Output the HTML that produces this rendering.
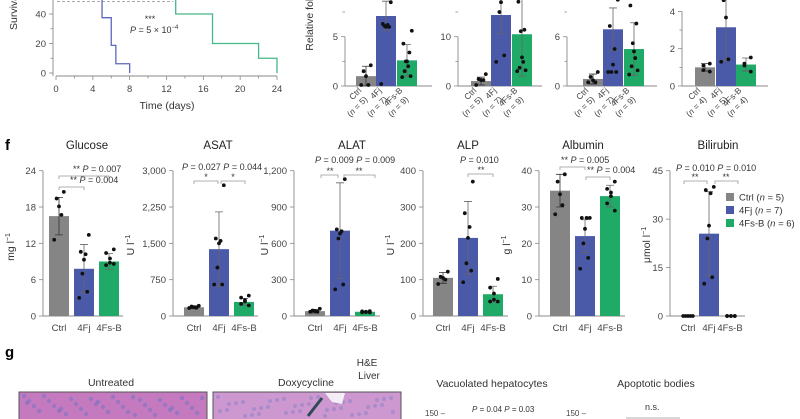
<!DOCTYPE html>
<html><head><meta charset="utf-8">
<style>
html,body{margin:0;padding:0;background:#fff;}
svg{display:block;font-family:"Liberation Sans",sans-serif;}
</style></head>
<body>
<svg id="fig" width="800" height="419" viewBox="0 0 800 419" xmlns="http://www.w3.org/2000/svg">
<g id="static">
  <text x="5" y="150" font-size="15" font-weight="bold">f</text>
  <text x="5" y="357" font-size="15" font-weight="bold">g</text>
  <text x="367" y="366" font-size="10" text-anchor="middle" fill="#333">H&amp;E</text>
  <text x="369" y="379" font-size="10" text-anchor="middle" fill="#333">Liver</text>
  <text x="111" y="386" font-size="10.5" text-anchor="middle" fill="#333">Untreated</text>
  <text x="306" y="386" font-size="10.5" text-anchor="middle" fill="#333">Doxycycline</text>
  <text x="492" y="387" font-size="10.5" text-anchor="middle" fill="#333">Vacuolated hepatocytes</text>
  <text x="656" y="387" font-size="10.5" text-anchor="middle" fill="#333">Apoptotic bodies</text>
  <text x="425" y="416" font-size="8" fill="#444">150 –</text>
  <text x="472" y="412" font-size="8" fill="#333"><tspan font-style="italic">P</tspan> = 0.04 <tspan font-style="italic">P</tspan> = 0.03</text>
  <text x="566" y="416" font-size="8" fill="#444">150 –</text>
  <text x="645" y="410" font-size="9" fill="#333">n.s.</text>
  <line x1="626" y1="418" x2="680" y2="418" stroke="#999" stroke-width="0.8"/>
</g>
<g id="histo"></g>
<g id="surv"></g>
<g id="charts"></g>
</svg>
<script>
// ---------- Survival data ----------
const survTicksX = [0,4,8,12,16,20,24];
const survTicksY = [0,20,40];
const survBlueT = [0,5,6,6.5,8];
const survBlueV = [100,37.5,18.75,6.25,0];
const survGreenT = [0,13,17,22,24];
const survGreenV = [100,40,20,10,0];

// ---------- Top-row fold-expression data ----------
const groupsTop = ['Ctrl','4Fj','4Fs-B'];
const foldA_n = [5,7,9], foldA_mean = [1.0,7.1,2.6], foldA_err = [1.0,1.5,1.6];
const foldA_dots = [[2.1,1.5,1.0,0.1,0.1],[8.5,6.3,6.2,6.0,6.1,6.0,0.2],[5.6,4.3,3.4,2.5,2.5,2.0,1.5,1.0,0.9]];
const foldB_n = [5,7,9], foldB_mean = [1.0,14.4,10.5], foldB_err = [0.8,3.8,8.5];
const foldB_dots = [[2.4,1.4,1.2,1.2,0.2],[20,19,18,17,15,6.2,4.9],[20,17.1,11.4,11.1,5.8,4.9,3.7,3.2,3.0]];
const foldC_n = [5,7,9], foldC_mean = [0.85,6.9,4.5], foldC_err = [0.6,2.6,3.2];
const foldC_dots = [[1.7,1.1,0.7,0.45,0.45],[10.5,7.3,4.5,2.6,1.7,1.7,1.7],[11,9.8,7.6,5.2,4.2,3.4,2.4,1.9,1.4]];
const foldD_n = [4,5,4], foldD_mean = [1.0,3.15,1.15], foldD_err = [0.2,1.8,0.35];
const foldD_dots = [[1.2,1.1,0.85,0.77],[4.9,4.6,3.67,1.43,1.3],[1.53,1.2,1.1,0.77]];

// ---------- Serum chemistry data ----------
const gluc_mean=[16.5,7.8,9.0], gluc_err=[3.1,4.0,1.3];
const gluc_dots=[[20.5,19.4,18.1,16.7,12.6],[13.4,10.6,10.2,9.3,7.0,4.0,3.0],[11,10.4,9.5,8.8,8.4,8.6]];
const gluc_ticks=[0,6,12,18,24];
const asat_mean=[180,1380,290], asat_err=[30,770,70];
const asat_dots=[[210,195,180,170,165],[2700,1600,1550,1500,1000,650,650],[420,380,330,300,250,220]];
const asat_ticks=[0,750,1500,2250,3000];
const asat_tickLabels=['0','750','1,500','2,250','3,000'];
const alat_mean=[40,705,35], alat_err=[15,395,5];
const alat_dots=[[60,45,40,35,35],[1130,715,700,680,640,260,220],[40,38,35,32,30,30]];
const alat_ticks=[0,300,600,900,1200];
const alat_tickLabels=['0','300','600','900','1,200'];
const alp_mean=[105,215,60], alp_err=[15,100,22];
const alp_dots=[[122,108,105,100,88],[370,283,245,215,145,125,93],[102,78,62,45,40,40]];
const alp_ticks=[0,100,200,300,400];
const alb_mean=[34.5,22,33], alb_err=[4.5,4.5,3];
const alb_dots=[[39,37,33.5,30.5,28],[27,27,27,24,20,16,13],[37,35,34,33,31,29]];
const alb_ticks=[0,10,20,30,40];
const bil_mean=[0,25.5,0], bil_err=[0,13,0];
const bil_dots=[[0,0,0,0,0],[40,39,38,28,24,12,10],[0,0,0,0,0,0]];
const bil_ticks=[0,15,30,45];
const legendLabels=['Ctrl','4Fj','4Fs-B'];
const legendN=[5,7,6];

const COLORS=['#858585','#4a5aa9','#1faa68'];
const NS='http://www.w3.org/2000/svg';
function mk(parent, tag, attrs){const e=document.createElementNS(NS,tag);for(const k in attrs)e.setAttribute(k,attrs[k]);parent.appendChild(e);return e;}

// ---------- Histology (decorative) ----------
(function(){
  const g=document.getElementById('histo');
  const r1=mk(g,'rect',{x:19,y:392,width:188,height:30,fill:'#c57ac0',stroke:'#555','stroke-width':1});
  
  
  const r2=mk(g,'rect',{x:213,y:392,width:188,height:30,fill:'#cc98cf',stroke:'#555','stroke-width':1});
  
  
  for(let i=0;i<40;i++){
    const c=mk(g,'circle',{cx:24+((i*37)%180),cy:396+((i*13)%20),r:2.2,fill:'#7b74c0',opacity:0.6});
    
    
    const c2=mk(g,'circle',{cx:218+((i*41)%180),cy:397+((i*17)%20),r:2,fill:'#8a80c8',opacity:0.5});
    
    
  }
  const v=mk(g,'path',{d:'M325 393 L345 393 L342 404 L332 402 Z',fill:'#f3eef5'});
  
  
  const a=mk(g,'line',{x1:322,y1:398,x2:308,y2:416,stroke:'#2d4a55','stroke-width':3});
  
  
})();

// ---------- Survival chart ----------
(function(){
  const g=document.getElementById('surv');
  const X0=56,X1=277,Y0=73,PY=1.475;
  const sx=t=>X0+t*(X1-X0)/24, sy=v=>Y0-v*PY;
  const ax=mk(g,'line',{x1:X0,y1:Y0+3,x2:X1,y2:Y0+3,stroke:'#888','stroke-width':0.9});
  
  
  const ay=mk(g,'line',{x1:X0-3,y1:0,x2:X0-3,y2:Y0+3,stroke:'#888','stroke-width':0.9});
  
  
  for(let t=0;t<=24;t+=2){mk(g,'line',{x1:sx(t),y1:Y0+3,x2:sx(t),y2:Y0+(t%4===0?7:5.5),stroke:'#888','stroke-width':0.8});}
  survTicksX.forEach(t=>{const e=mk(g,'text',{x:sx(t),y:Y0+19,'font-size':9.5,'text-anchor':'middle',fill:'#444'});e.textContent=t;
    
    });
  survTicksY.forEach(v=>{mk(g,'line',{x1:X0-7,y1:sy(v),x2:X0-3,y2:sy(v),stroke:'#888','stroke-width':0.8});
    const e=mk(g,'text',{x:X0-10,y:sy(v)+3.5,'font-size':9.5,'text-anchor':'end',fill:'#444'});e.textContent=v;
    
    });
  [10,30].forEach(v=>mk(g,'line',{x1:X0-5.5,y1:sy(v),x2:X0-3,y2:sy(v),stroke:'#888','stroke-width':0.8}));
  const yl=mk(g,'text',{x:0,y:0,'font-size':10.5,fill:'#333',transform:'translate(17,30) rotate(-90)'});yl.textContent='Survival (%)';
  
  
  const xl=mk(g,'text',{x:167,y:109,'font-size':10.5,'text-anchor':'middle',fill:'#333'});xl.textContent='Time (days)';
  
  
  const d=mk(g,'line',{x1:57,y1:1.5,x2:173,y2:1.5,stroke:'#aaa','stroke-width':1,'stroke-dasharray':'3,2'});
  
  
  function step(T,V,color,name){
    let p='M'+sx(T[0])+' '+sy(V[0]);
    for(let i=1;i<T.length;i++){p+=' H'+sx(T[i])+' V'+sy(V[i]);}
    const e=mk(g,'path',{d:p,fill:'none',stroke:color,'stroke-width':1.3});
    
    
  }
  step(survBlueT,survBlueV,'#5b68bd','survival-4fj-line');
  step(survGreenT,survGreenV,'#45b888','survival-4fsb-line');
  const s=mk(g,'text',{x:150,y:22,'font-size':9,'text-anchor':'middle',fill:'#333'});s.textContent='***';
  
  
  const pt=mk(g,'text',{x:130,y:33,'font-size':9,fill:'#333'});
  pt.innerHTML='<tspan font-style="italic">P</tspan> = 5 × 10<tspan font-size="6" dy="-4">−4</tspan>';
  
  
})();

// ---------- Bar chart helper ----------
function barChart(cfg, means, errs, dots){
  const g=mk(document.getElementById('charts'),'g',{});
  
  
  const sy=v=>Math.max(cfg.y0-(v-0)*(cfg.y0-cfg.yTop)/cfg.vTop, -5);
  const ax=mk(g,'line',{x1:cfg.ax,y1:cfg.y0,x2:cfg.axEnd,y2:cfg.y0,stroke:'#888','stroke-width':0.9});
  
  
  const ay=mk(g,'line',{x1:cfg.ax,y1:cfg.y0,x2:cfg.ax,y2:Math.max(0,sy(cfg.ticks[cfg.ticks.length-1])),stroke:'#888','stroke-width':0.9});
  
  
  cfg.ticks.forEach((v,i)=>{
    const y=sy(v); if(y<0) return;
    mk(g,'line',{x1:cfg.ax-4,y1:y,x2:cfg.ax,y2:y,stroke:'#888','stroke-width':0.8});
    const lab=cfg.labels?cfg.labels[i]:String(v);
    if(lab!==''){const t=mk(g,'text',{x:cfg.ax-7,y:y+3.5,'font-size':9.5,'text-anchor':'end',fill:'#444'});t.textContent=lab;
      
      }
  });
  means.forEach((m,i)=>{
    const x=cfg.bx[i], w=20, cx=x+w/2;
    const b=mk(g,'rect',{x:x,y:sy(m),width:w,height:cfg.y0-sy(m),fill:COLORS[i]});
    
    
    if(errs[i]>0){
      const top=sy(m+errs[i]), bot=sy(Math.max(0,m-errs[i]));
      const e=mk(g,'path',{d:`M${cx} ${top} V${bot} M${cx-4} ${top} H${cx+4} M${cx-4} ${bot} H${cx+4}`,stroke:i===0?'#333':'#666','stroke-width':0.8,fill:'none'});
      
      
    }
    const d=dots[i], n=d.length;
    d.forEach((v,j)=>{
      const off=n>1?(-6+12*j/(n-1)):0;
      const c=mk(g,'circle',{cx:cx+off*((j%2)?1:-1)*0.8,cy:sy(v),r:1.9,fill:'#111'});
      
      
    });
    if(cfg.xlab==='rot'){
      const gl=mk(g,'g',{transform:`translate(${cx-4},${cfg.y0+5}) rotate(-45)`});
      const t1=mk(gl,'text',{x:0,y:0,'font-size':8.5,'text-anchor':'end',fill:'#444'});t1.textContent=groupsTop[i];
      
      
      const t2=mk(gl,'text',{x:-2,y:10.5,'font-size':8.5,'text-anchor':'end',fill:'#444'});
      t2.innerHTML='(<tspan font-style="italic">n</tspan> = '+cfg.n[i]+')';
      
      
    } else {
      const t=mk(g,'text',{x:cx,y:cfg.y0+15,'font-size':9.5,'text-anchor':'middle',fill:'#444'});t.textContent=groupsTop[i];
      
      
    }
  });
  if(cfg.minor){cfg.minor.forEach(v=>{const y=sy(v);if(y>=0)mk(g,'line',{x1:cfg.ax-2.5,y1:y,x2:cfg.ax,y2:y,stroke:'#888','stroke-width':0.8});});}
  if(cfg.title){const t=mk(g,'text',{x:cfg.tx,y:149,'font-size':11.5,'text-anchor':'middle',fill:'#222'});t.textContent=cfg.title;
    
    }
  if(cfg.ylab){const t=mk(g,'text',{x:0,y:0,'font-size':10.5,'text-anchor':'middle',fill:'#333',transform:`translate(${cfg.ylx},${cfg.yly}) rotate(-90)`});t.innerHTML=cfg.ylab;
    
    }
  return g;
}
function bracket(g,x1,x2,y,name){
  const p=mk(g,'path',{d:`M${x1} ${y+3} V${y} H${x2} V${y+3}`,stroke:'#999','stroke-width':0.8,fill:'none'});
  
  
}
function txt(g,x,y,html,name,anchor){
  const t=mk(g,'text',{x:x,y:y,'font-size':9,fill:'#333','text-anchor':anchor||'start'});t.innerHTML=html;
  
  
  return t;
}
const P='<tspan font-style="italic">P</tspan>';

// Top fold charts
barChart({name:'fold-a',ax:345,axEnd:432,y0:86,yTop:36.7,vTop:5,ticks:[0,5],minor:[2.5,7.5],bx:[356,376,397],xlab:'rot',n:foldA_n,ylab:'Relative fold expression',ylx:313,yly:-5},foldA_mean,foldA_err,foldA_dots);
barChart({name:'fold-b',ax:458,axEnd:542,y0:86,yTop:36.7,vTop:10,ticks:[0,10],minor:[5,15],bx:[471,491,512],xlab:'rot',n:foldB_n},foldB_mean,foldB_err,foldB_dots);
barChart({name:'fold-c',ax:567,axEnd:657,y0:86,yTop:36.7,vTop:6,ticks:[0,6],minor:[3,9],bx:[583,603,624],xlab:'rot',n:foldC_n},foldC_mean,foldC_err,foldC_dots);
barChart({name:'fold-d',ax:682,axEnd:768,y0:86,yTop:48.7,vTop:2,ticks:[0,2,4],minor:[1,3],bx:[695,716,736],xlab:'rot',n:foldD_n},foldD_mean,foldD_err,foldD_dots);

// Row f
const Y0=316, YT=170.7;
const g1=barChart({name:'glucose',title:'Glucose',tx:87,ax:43,axEnd:123,y0:Y0,yTop:YT,vTop:24,ticks:gluc_ticks,bx:[49,74,99],ylab:'mg l<tspan font-size="7" dy="-4">−1</tspan>',ylx:14,yly:247},gluc_mean,gluc_err,gluc_dots);
bracket(g1,59,109,176,'glucose-bracket-ctrl-4fsb');txt(g1,73,172,'** '+P+' = 0.007','glucose-p-4fsb');
bracket(g1,59,84,187,'glucose-bracket-ctrl-4fj');txt(g1,70,183,'** '+P+' = 0.004','glucose-p-4fj');
const g2=barChart({name:'asat',title:'ASAT',tx:218,ax:173,axEnd:258,y0:Y0,yTop:YT,vTop:3000,ticks:asat_ticks,labels:asat_tickLabels,bx:[184,209,234],ylab:'U l<tspan font-size="7" dy="-4">−1</tspan>',ylx:134,yly:245},asat_mean,asat_err,asat_dots);
txt(g2,182,170,P+' = 0.027 '+P+' = 0.044','asat-p-values');
bracket(g2,194,218,181,'asat-bracket-1');bracket(g2,221,245,181,'asat-bracket-2');
txt(g2,206,180,'*','asat-star-1','middle');txt(g2,233,180,'*','asat-star-2','middle');
const g3=barChart({name:'alat',title:'ALAT',tx:352,ax:294,axEnd:380,y0:Y0,yTop:YT,vTop:1200,ticks:alat_ticks,labels:alat_tickLabels,bx:[305,330,355],ylab:'U l<tspan font-size="7" dy="-4">−1</tspan>',ylx:268,yly:245},alat_mean,alat_err,alat_dots);
txt(g3,315,163,P+' = 0.009 '+P+' = 0.009','alat-p-values');
bracket(g3,321,338,175,'alat-bracket-1');bracket(g3,344,375,175,'alat-bracket-2');
txt(g3,330,174,'**','alat-stars-1','middle');txt(g3,359,174,'**','alat-stars-2','middle');
const alpY=mk(g3,'text',{x:0,y:0,'font-size':10.5,'text-anchor':'middle',fill:'#333',transform:'translate(394,245) rotate(-90)'});
alpY.innerHTML='U l<tspan font-size="7" dy="-4">−1</tspan>';


const g4=barChart({name:'alp',title:'ALP',tx:468,ax:423,axEnd:508,y0:Y0,yTop:YT,vTop:400,ticks:alp_ticks,bx:[433,458,483]},alp_mean,alp_err,alp_dots);
txt(g4,460,163,P+' = 0.010','alp-p-value');
bracket(g4,468,493,174,'alp-bracket');txt(g4,481,173,'**','alp-stars','middle');
const g5=barChart({name:'albumin',title:'Albumin',tx:583,ax:539,axEnd:625,y0:Y0,yTop:YT,vTop:40,ticks:alb_ticks,bx:[550,575,600],ylab:'g l<tspan font-size="7" dy="-4">−1</tspan>',ylx:510,yly:245},alb_mean,alb_err,alb_dots);
bracket(g5,560,585,167,'albumin-bracket-1');txt(g5,561,163,'** '+P+' = 0.005','albumin-p-1');
bracket(g5,586,610,177,'albumin-bracket-2');txt(g5,587,173,'** '+P+' = 0.004','albumin-p-2');
const g6=barChart({name:'bilirubin',title:'Bilirubin',tx:718,ax:670,axEnd:745,y0:Y0,yTop:YT,vTop:45,ticks:bil_ticks,bx:[678,699,720],ylab:'μmol l<tspan font-size="7" dy="-4">−1</tspan>',ylx:650,yly:245},bil_mean,bil_err,bil_dots);
txt(g6,676,171,P+' = 0.010 '+P+' = 0.010','bilirubin-p-values');
bracket(g6,684,707,181,'bilirubin-bracket-1');bracket(g6,715,738,181,'bilirubin-bracket-2');
txt(g6,695,180,'**','bilirubin-stars-1','middle');txt(g6,726,180,'**','bilirubin-stars-2','middle');
// Legend
legendLabels.forEach((l,i)=>{
  const y=193+i*13;
  const r=mk(g6,'rect',{x:726,y:y,width:8,height:8,fill:COLORS[i]});
  
  
  const t=mk(g6,'text',{x:739,y:y+7.5,'font-size':9.5,fill:'#333'});
  t.innerHTML=l+' (<tspan font-style="italic">n</tspan> = '+legendN[i]+')';
  
  
});
</script>
</body></html>
